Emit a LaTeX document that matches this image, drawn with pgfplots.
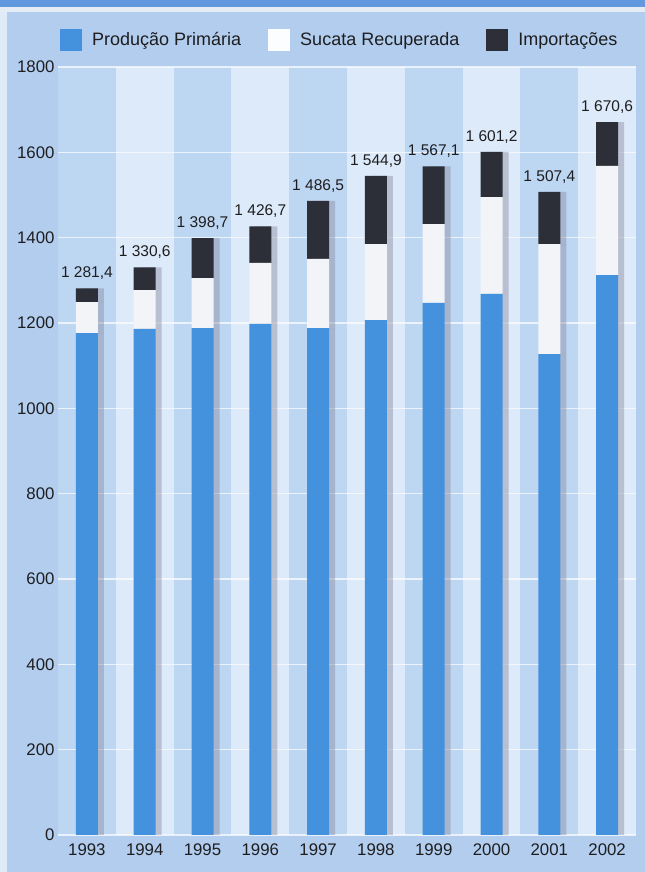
\documentclass[border=0pt]{standalone}
\usepackage{pgfplots}
\pgfplotsset{compat=1.18}
\usepackage{fontspec}
\setmainfont{Liberation Sans}
\definecolor{outerc}{RGB}{178,205,237}
\definecolor{cellc}{RGB}{189,214,242}
\definecolor{stripec}{RGB}{221,234,249}
\definecolor{titlec}{RGB}{98,152,222}
\definecolor{titleline}{RGB}{228,236,246}
\definecolor{bluem}{RGB}{68,146,222}
\definecolor{darkm}{RGB}{44,47,55}
\definecolor{whitem}{RGB}{242,244,248}
\definecolor{shadowc}{RGB}{140,140,160}
\definecolor{txt}{RGB}{30,30,32}
\begin{document}
\begin{tikzpicture}
\path[use as bounding box] (0bp,0bp) rectangle (645bp,872bp);
\fill[outerc] (0bp,0bp) rectangle (645bp,872bp);
\fill[white!60!outerc] (0bp,0bp) rectangle (7bp,866bp);
\fill[titleline] (0bp,860bp) rectangle (645bp,866bp);
\fill[titlec] (0bp,865bp) rectangle (645bp,872bp);
\begin{axis}[
  at={(58bp,37bp)}, anchor=south west,
  scale only axis, width=578bp, height=768bp,
  xmin=-0.5, xmax=9.5, ymin=0, ymax=1800,
  xtick={0,...,9},
  xticklabels={1993,1994,1995,1996,1997,1998,1999,2000,2001,2002},
  ytick={0,200,400,600,800,1000,1200,1400,1600,1800},
  axis line style={draw=none},
  major tick length=0pt,
  tick style={draw=none},
  ymajorgrids,
  grid style={white, opacity=0.7, line width=1.4bp},
  axis background/.style={fill=cellc, path picture={
    \foreach \i in {1,3,5,7,9}{
      \fill[stripec] ([xshift=\i*57.8bp]path picture bounding box.south west)
        rectangle ([xshift=\i*57.8bp+57.8bp]path picture bounding box.north west);
    }}},
  ticklabel style={font=\fontsize{16.8bp}{19bp}\selectfont, text=txt},
  xticklabel style={yshift=-5bp},
  /pgf/number format/assume math mode=true,
  /pgf/number format/set thousands separator={},
  ybar stacked, bar width=22bp,
  legend columns=3,
  legend style={at={(axis description cs:0,1)}, anchor=west, xshift=2bp, yshift=27bp,
    draw=none, fill=none, inner sep=0pt,
    font=\fontsize{18bp}{21bp}\selectfont, text=txt,
    /tikz/every even column/.append style={column sep=25bp}},
  legend cell align=left,
]
\addlegendimage{draw=none, legend image code/.code={\fill[bluem] (0bp,-11bp) rectangle (22bp,11bp); \path[draw=none] (22bp,0bp) -- (30bp,0bp);}}
\addlegendimage{draw=none, legend image code/.code={\fill[white!90!stripec] (0bp,-11bp) rectangle (22bp,11bp); \path[draw=none] (22bp,0bp) -- (30bp,0bp);}}
\addlegendimage{draw=none, legend image code/.code={\fill[darkm] (0bp,-11bp) rectangle (22bp,11bp); \path[draw=none] (22bp,0bp) -- (30bp,0bp);}}
% Producao Primaria
\addplot[forget plot, draw=none, fill=bluem,
  preaction={fill=shadowc, fill opacity=0.45, transform canvas={xshift=6bp}}]
  table[x=x,y=y]{
x y
0 1176
1 1186
2 1188
3 1198
4 1188
5 1207
6 1247
7 1268
8 1127
9 1312
};
% Sucata Recuperada
\addplot[forget plot, draw=none, fill=whitem,
  preaction={fill=shadowc, fill opacity=0.45, transform canvas={xshift=6bp}}]
  table[x=x,y=y]{
x y
0 73
1 91
2 117
3 143
4 162
5 178
6 185
7 227
8 258
9 256
};
% Importacoes
\addplot[forget plot, draw=none, fill=darkm,
  preaction={fill=shadowc, fill opacity=0.45, transform canvas={xshift=6bp}}]
  table[x=x,y=y]{
x y
0 32.4
1 53.6
2 93.7
3 85.7
4 136.5
5 159.9
6 135.1
7 106.2
8 122.4
9 102.6
};
\legend{Produção Primária, Sucata Recuperada, Importações}
\end{axis}
% totals as labels
\begin{axis}[
  at={(58bp,37bp)}, anchor=south west,
  scale only axis, width=578bp, height=768bp,
  xmin=-0.5, xmax=9.5, ymin=0, ymax=1800,
  hide axis, clip=false,
]
\addplot[only marks, mark=*, mark size=0pt, mark options={draw=none, fill=none},
  point meta=explicit symbolic, nodes near coords,
  every node near coord/.append style={font=\fontsize{15.5bp}{18bp}\selectfont, text=txt, anchor=south, yshift=5bp}]
  table[x=x,y=y,meta=lab]{
x y lab
0 1281.4 1\hspace{0.28em}281,4
1 1330.6 1\hspace{0.28em}330,6
2 1398.7 1\hspace{0.28em}398,7
3 1426.7 1\hspace{0.28em}426,7
4 1486.5 1\hspace{0.28em}486,5
5 1544.9 1\hspace{0.28em}544,9
6 1567.1 1\hspace{0.28em}567,1
7 1601.2 1\hspace{0.28em}601,2
8 1507.4 1\hspace{0.28em}507,4
9 1670.6 1\hspace{0.28em}670,6
};
\end{axis}
\end{tikzpicture}
\end{document}
